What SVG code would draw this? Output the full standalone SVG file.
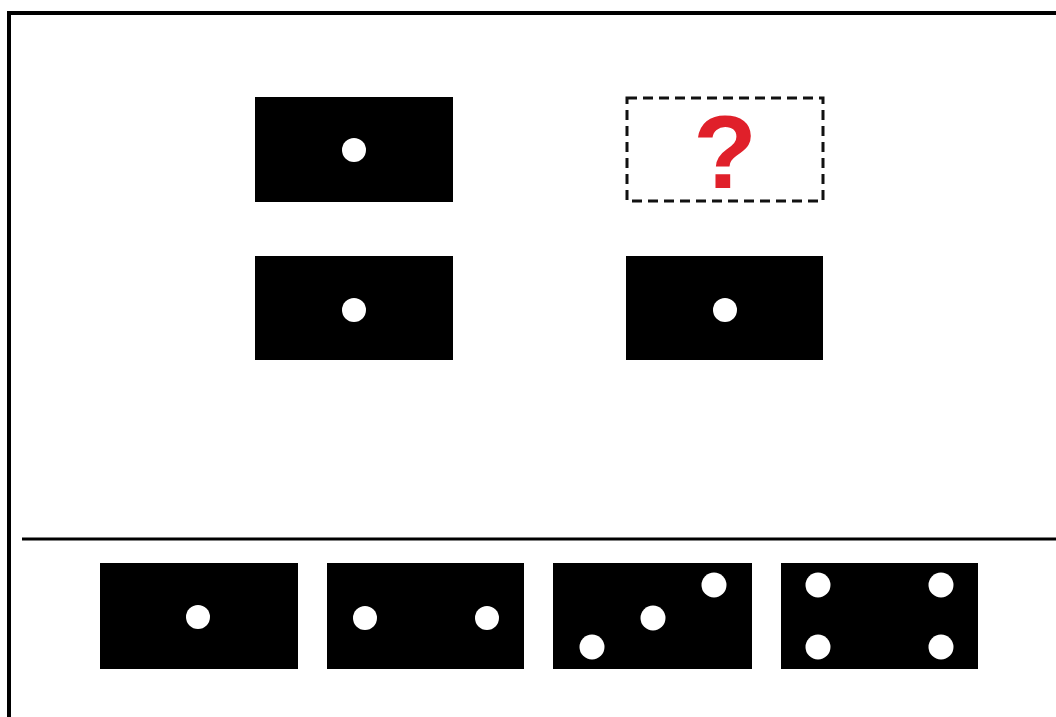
<svg xmlns="http://www.w3.org/2000/svg" width="1056" height="717" viewBox="0 0 1056 717">
<style>
.card{fill:#000}
.dot{fill:#fff}
.frame{fill:none;stroke:#000;stroke-width:4}
.q{font-family:"Liberation Sans",Arial,sans-serif;font-weight:bold;font-size:104px;fill:#e0202a}
</style>
<rect width="1056" height="717" fill="#fff"/>
<path class="frame" d="M9,717 V13 H1056"/>
<g id="q1"><rect class="card" x="255" y="97" width="198" height="105"/><circle class="dot" cx="354" cy="150" r="12"/></g>
<g id="q2"><rect x="627" y="98" width="196" height="103" fill="none" stroke="#111" stroke-width="3" stroke-dasharray="10,6"/><text class="q" x="725" y="188" text-anchor="middle">?</text></g>
<g id="q3"><rect class="card" x="255" y="256" width="198" height="104"/><circle class="dot" cx="354" cy="310" r="12"/></g>
<g id="q4"><rect class="card" x="626" y="256" width="197" height="104"/><circle class="dot" cx="725" cy="310" r="12"/></g>
<g id="divider"><line x1="22" y1="539" x2="1056" y2="539" stroke="#000" stroke-width="3"/></g>
<g id="a1"><rect class="card" x="100" y="563" width="198" height="106"/><circle class="dot" cx="198" cy="617" r="12"/></g>
<g id="a2"><rect class="card" x="327" y="563" width="197" height="106"/><circle class="dot" cx="365" cy="618" r="12"/><circle class="dot" cx="487" cy="618" r="12"/></g>
<g id="a3"><rect class="card" x="553" y="563" width="199" height="106"/><circle class="dot" cx="592" cy="647" r="12.5"/><circle class="dot" cx="653" cy="618" r="12.5"/><circle class="dot" cx="714" cy="585" r="12.5"/></g>
<g id="a4"><rect class="card" x="781" y="563" width="197" height="106"/><circle class="dot" cx="818" cy="585" r="12.5"/><circle class="dot" cx="941" cy="585" r="12.5"/><circle class="dot" cx="818" cy="647" r="12.5"/><circle class="dot" cx="941" cy="647" r="12.5"/></g>
<g id="connectors"></g>
</svg>
